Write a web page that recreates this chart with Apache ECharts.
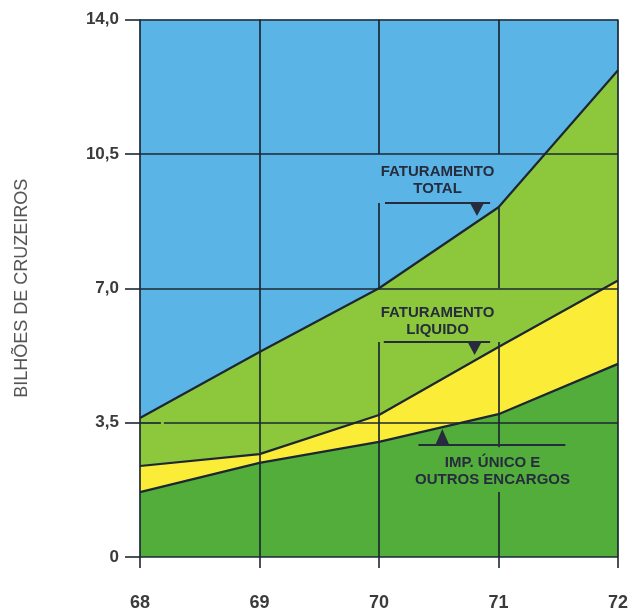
<!DOCTYPE html>
<html>
<head>
<meta charset="utf-8">
<script src="https://cdn.jsdelivr.net/npm/echarts@6/dist/echarts.min.js"></script>
<style>
  html, body { margin: 0; padding: 0; background: #ffffff; }
  #chart { width: 634px; height: 614px; }
</style>
</head>
<body>
<div id="chart"></div>
<script>
// Anos e valores (bilhões de cruzeiros)
const years = [68, 69, 70, 71, 72];
const faturamentoTotal = [3.62, 5.34, 7.0, 9.11, 12.68];
const faturamentoLiquido = [2.37, 2.68, 3.70, 5.47, 7.2];
const impostoUnico = [1.69, 2.45, 3.0, 3.72, 5.03];

// Grid line segments, in data units, with breaks left open around the labels
const gridSegments = [
  [[68, 0], [68, 14]],
  [[69, 0], [69, 14]],
  [[70, 14], [70, 10.5]], [[70, 9.22], [70, 7.0]], [[70, 5.6], [70, 0]],
  [[71, 14], [71, 10.5]], [[71, 9.11], [71, 7.0]], [[71, 5.6], [71, 2.86]], [[71, 1.69], [71, 0]],
  [[72, 0], [72, 14]],
  [[68, 14], [72, 14]],
  [[68, 10.5], [72, 10.5]],
  [[68, 7.0], [72, 7.0]],
  [[68, 3.5], [68.175, 3.5]], [[68.2, 3.5], [72, 3.5]],
  [[68, 0], [72, 0]]
];

const BLUE = '#5bb4e6';
const LIGHT_GREEN = '#8dc83c';
const YELLOW = '#fbec37';
const DARK_GREEN = '#52ad3b';
const INK = '#1c2733';
const NOTE_INK = '#262c3e';
const FONT = "'Liberation Sans', Arial, sans-serif";

const pairs = arr => years.map((y, i) => [y, arr[i]]);

const chart = echarts.init(document.getElementById('chart'));

const option = {
  animation: false,
  grid: {
    left: 140, right: 16, top: 19.5, bottom: 57,
    show: true, backgroundColor: BLUE, borderWidth: 0
  },
  xAxis: {
    type: 'value', min: 68, max: 72, interval: 1,
    axisLine: { show: false },
    axisTick: { show: true, length: 11, lineStyle: { color: INK, width: 1.6 } },
    splitLine: { show: false },
    axisLabel: {
      margin: 37, fontFamily: FONT, fontSize: 18, fontWeight: 'bold', color: '#3b3b3b'
    }
  },
  yAxis: {
    type: 'value', min: 0, max: 14, interval: 3.5,
    name: 'BILHÕES DE CRUZEIROS',
    nameLocation: 'middle', nameRotate: 90, nameGap: 109,
    nameTextStyle: { fontFamily: FONT, fontSize: 18, color: '#555555' },
    axisLine: { show: false },
    axisTick: { show: true, length: 15, lineStyle: { color: INK, width: 1.6 } },
    splitLine: { show: false },
    axisLabel: {
      margin: 21, fontFamily: FONT, fontSize: 17, fontWeight: 'bold', color: '#3b3b3b',
      formatter: v => (v === 0 ? '0' : v.toFixed(1).replace('.', ','))
    }
  },
  series: [
    {
      name: 'Faturamento total', type: 'line', data: pairs(faturamentoTotal),
      symbol: 'none', z: 2,
      lineStyle: { color: INK, width: 2.2 },
      areaStyle: { color: LIGHT_GREEN, opacity: 1 }
    },
    {
      name: 'Faturamento líquido', type: 'line', data: pairs(faturamentoLiquido),
      symbol: 'none', z: 3,
      lineStyle: { color: INK, width: 2.2 },
      areaStyle: { color: YELLOW, opacity: 1 }
    },
    {
      name: 'Imp. único e outros encargos', type: 'line', data: pairs(impostoUnico),
      symbol: 'none', z: 4,
      lineStyle: { color: INK, width: 2.2 },
      areaStyle: { color: DARK_GREEN, opacity: 1 }
    },
    {
      name: 'grade', type: 'line', data: [], z: 6, silent: true,
      markLine: {
        silent: true, symbol: 'none', animation: false,
        label: { show: false },
        lineStyle: { color: INK, width: 1.7, type: 'solid' },
        data: gridSegments.map(s => [{ coord: s[0] }, { coord: s[1] }])
      }
    }
  ]
};
chart.setOption(option);

// Annotation labels with pointer bars and arrowheads, placed in data units
const P = (x, y) => chart.convertToPixel({ gridIndex: 0 }, [x, y]);
const notes = [
  { text: 'FATURAMENTO\nTOTAL', at: [70.49, 9.8], bar: [70.05, 70.93, 9.22], tip: [70.82, 9.22], dir: 'down' },
  { text: 'FATURAMENTO\nLIQUIDO', at: [70.49, 6.13], bar: [70.04, 70.93, 5.6], tip: [70.80, 5.6], dir: 'down' },
  { text: 'IMP. ÚNICO E\nOUTROS ENCARGOS', at: [70.95, 2.23], bar: [70.33, 71.56, 2.92], tip: [70.53, 2.92], dir: 'up' }
];
const graphic = [];
notes.forEach(n => {
  const c = P(n.at[0], n.at[1]);
  graphic.push({
    type: 'text', z: 20, silent: true,
    style: {
      text: n.text, x: c[0], y: c[1], align: 'center', verticalAlign: 'middle',
      font: `bold 15px ${FONT}`, lineHeight: 17, fill: NOTE_INK
    }
  });
  const a = P(n.bar[0], n.bar[2]);
  const b = P(n.bar[1], n.bar[2]);
  graphic.push({
    type: 'line', z: 20, silent: true,
    shape: { x1: a[0], y1: a[1], x2: b[0], y2: b[1] },
    style: { stroke: NOTE_INK, lineWidth: 2 }
  });
  const t = P(n.tip[0], n.tip[1]);
  const h = n.dir === 'down' ? 13 : -16;
  graphic.push({
    type: 'polygon', z: 20, silent: true,
    shape: { points: [[t[0] - 7, t[1]], [t[0] + 7, t[1]], [t[0], t[1] + h]] },
    style: { fill: NOTE_INK }
  });
});
chart.setOption({ graphic });
</script>
</body>
</html>
